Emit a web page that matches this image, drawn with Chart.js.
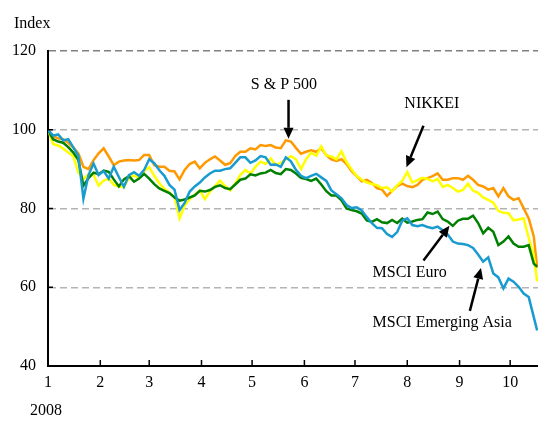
<!DOCTYPE html>
<html><head><meta charset="utf-8">
<script src="https://cdn.jsdelivr.net/npm/chart.js@4.4.0/dist/chart.umd.min.js"></script>
<style>html,body{margin:0;padding:0;background:#fff;}#wrap{width:538px;height:421px;position:relative;}</style>
</head><body><div id="wrap"><canvas id="c"></canvas></div>
<script>
// Days since 1 Jan 2008
const days = [0,3,6,9,12,15,18,21,24,27,30,33,36,39,42,45,48,51,54,57,60,63,66,69,72,75,78,81,84,87,90,93,96,99,102,105,108,111,114,117,120,123,126,129,132,135,138,141,144,147,150,153,156,159,162,165,168,171,174,177,180,183,186,189,192,195,198,201,204,207,210,213,216,219,222,225,228,231,234,237,240,243,246,249,252,255,258,261,264,267,270,273,276,279,282,285,288,290];
const sp500 = [100,98.4,97.8,97.6,96.7,95.5,94,90.6,90,92.3,94,95.3,93.2,91,91.9,92.2,92.3,92.2,92.3,93.6,93.6,91,90.6,90.6,89.6,89.4,87.4,89.8,91.3,91.9,90.2,91.6,92.5,93.2,92.2,91.1,91.5,93.3,94.4,94.4,95.3,95,96.1,95.9,96.1,95.5,95.3,97.3,97,95.4,93.9,94.4,94.8,94.4,95.3,93.5,92.5,92.1,92.5,91.3,89.5,88.2,86.9,87.3,86.5,85.2,84.8,83.2,84.5,85.7,86.3,85.7,85.4,86,87.3,87.7,88.2,88.9,87.3,87.3,87.7,87.7,87.3,88.3,87.3,86,85.6,84.8,85.2,83.1,85.2,83.1,82.2,82.6,80.1,77.5,72.9,65];
const nikkei = [100,96.4,96.0,95.2,94.2,93.3,89.1,87.5,88.7,88.5,85.8,87.1,87.6,86,85.6,85.4,87.8,88.4,87.7,89.5,90.5,88.3,86.4,85,84,82.9,77.5,80.7,82.4,83.5,84.6,82.4,84.3,85.7,87.1,85.7,84.6,86.4,88.5,89.8,88.9,90.6,91.9,91.3,92.7,91.1,91.6,92.5,93.3,92.5,90,92.5,94.2,93.4,95.8,93.5,93.2,92.5,94.5,91.8,89.9,88.3,87.3,86.6,86.2,85.9,85.2,85.4,84.3,85.9,87,89.3,86.6,87.2,87.8,87.5,86.9,87.5,85.5,86,85.2,84.3,84.7,86.3,84.5,84,82.8,82.2,81.5,79.4,78.9,78.8,77,77.2,77.5,72.5,68,61.5];
const msciEuro = [100,97.6,97.0,96.7,95.6,94.2,92.3,85.8,87.7,89.1,88.7,89.6,89.3,87.4,85.6,87.4,88.2,86.8,87.6,88.8,87.6,86.2,85.1,84.5,83.9,82.8,82,82.3,82.8,83.3,84.5,84.3,84.7,85.5,85.9,85.2,84.9,86.1,87.3,87.6,88.7,88.4,88.9,89.1,89.8,89,88.7,90,89.8,88.9,87.8,87.5,87,87.6,86.1,84.4,83.3,83.3,82.1,80,79.6,79.3,78.7,77,76.6,77.3,76.5,76.3,77.1,76.3,77.4,76.4,76.7,77.1,77.3,79,78.6,79.2,77.3,76.7,75.6,76.9,77.4,77.4,78.2,76.3,73.7,75.1,74.1,70.7,71.6,72.9,71.1,70.3,70.3,70.7,66,65.2];
const msciAsia = [100,98.5,98.8,97.3,97.6,95.5,93.4,82.5,88.5,91.4,88.5,89.5,87.6,90.6,88,85.5,88.5,89.2,88.3,89.8,92.5,91.5,89.7,88.3,86,84.8,79.6,81.4,84.3,85.6,86.6,87.9,88.9,89.6,89.6,90,90.2,91.6,93,93,91.6,92.2,93.3,93,91.1,91.2,90.6,93,92,89.8,88.3,87.7,88.3,88.8,87.9,87,84.6,83.6,82.6,80.9,80.1,80.3,79.5,77.8,76.3,75.1,75,73.5,72.8,74,76.9,77.5,75.8,75.5,75.8,75.3,75,75.4,74.5,73.4,71.6,71.1,71,70.7,70,68.3,66.5,67.6,63.5,62.5,59.7,62.2,61.4,60.1,58.4,57.5,52.4,49];
const monthStarts = [0,31,60,91,121,152,182,213,244,274];
const monthLabels = ['1','2','3','4','5','6','7','8','9','10'];
const yTickValues = [40,60,80,100,120];
const seriesNames = ['MSCI Emerging Asia','MSCI Euro','NIKKEI','S & P 500'];
const seriesColors = ['#1A9BD0','#008000','#FFFF00','#FF9900'];
// annotations in data coordinates (day, value)
const notes = [
  {text:'S & P 500', x:139.9, y:111.4, align:'center', from:[142.6,107.6], to:[142.6,97.7]},
  {text:'NIKKEI', x:227.6, y:106.5, align:'center', from:[222.6,101.0], to:[212.5,90.5]},
  {text:'MSCI Euro', x:192.4, y:63.6, align:'left', from:[222.6,66.8], to:[238.0,75.6]},
  {text:'MSCI Emerging Asia', x:192.4, y:50.9, align:'left', from:[250.1,54.0], to:[256.7,64.9]}
];

const FONT = '"Liberation Serif", "Times New Roman", serif';
const mk = arr => days.map((d,i)=>({x:d,y:arr[i]}));
const allSeries = [msciAsia, msciEuro, nikkei, sp500];

const decor = {
  id:'decor',
  afterDraw(chart){
    const {ctx, scales:{x,y}, chartArea:a} = chart;
    ctx.save();
    ctx.strokeStyle='#000'; ctx.lineWidth=1.5;
    monthStarts.forEach(v=>{ if(v===0) return; const px=x.getPixelForValue(v); ctx.beginPath(); ctx.moveTo(px,a.bottom); ctx.lineTo(px,a.bottom-6); ctx.stroke(); });
    yTickValues.forEach(v=>{ if(v===40||v===120) return; const py=y.getPixelForValue(v); ctx.beginPath(); ctx.moveTo(a.left,py); ctx.lineTo(a.left+5,py); ctx.stroke(); });
    ctx.fillStyle='#000';
    ctx.font='16px '+FONT;
    ctx.textAlign='left'; ctx.textBaseline='alphabetic';
    ctx.fillText('Index',14,28);
    ctx.textBaseline='middle';
    ctx.fillText('2008',30,411);
    notes.forEach(n=>{
      ctx.textAlign=n.align;
      ctx.fillText(n.text, x.getPixelForValue(n.x), y.getPixelForValue(n.y));
      const x1=x.getPixelForValue(n.from[0]), y1=y.getPixelForValue(n.from[1]);
      const x2=x.getPixelForValue(n.to[0]), y2=y.getPixelForValue(n.to[1]);
      const ang=Math.atan2(y2-y1,x2-x1), hl=11, hw=5;
      const bx=x2-hl*Math.cos(ang), by=y2-hl*Math.sin(ang);
      ctx.strokeStyle='#000'; ctx.lineWidth=2.5;
      ctx.beginPath(); ctx.moveTo(x1,y1); ctx.lineTo(bx,by); ctx.stroke();
      ctx.beginPath(); ctx.moveTo(x2,y2);
      ctx.lineTo(bx+hw*Math.sin(ang), by-hw*Math.cos(ang));
      ctx.lineTo(bx-hw*Math.sin(ang), by+hw*Math.cos(ang));
      ctx.closePath(); ctx.fill();
    });
    ctx.restore();
  }
};

new Chart(document.getElementById('c'), {
  type:'line',
  data:{ datasets: allSeries.map((s,i)=>({label:seriesNames[i], data:mk(s), borderColor:seriesColors[i], backgroundColor:seriesColors[i], borderWidth:2.5, pointRadius:0, tension:0, fill:false})) },
  options:{
    responsive:true, maintainAspectRatio:false, animation:false,
    layout:{padding:{top:51,left:0,right:0,bottom:0}},
    plugins:{legend:{display:false}, tooltip:{enabled:false}},
    scales:{
      x:{type:'linear', min:0, max:290.5,
        afterFit(s){ s.height=55; },
        afterBuildTicks(s){ s.ticks = monthStarts.map(v=>({value:v})); },
        ticks:{autoSkip:false, maxRotation:0, padding:7, color:'#000', font:{family:FONT,size:16},
          callback:(v,i)=>monthLabels[i]},
        grid:{display:false, drawTicks:false},
        border:{display:true,color:'#000',width:2}
      },
      y:{min:40, max:120,
        afterFit(s){ s.width=48; },
        afterBuildTicks(s){ s.ticks = yTickValues.map(v=>({value:v})); },
        ticks:{padding:12, color:'#000', font:{family:FONT,size:16}},
        grid:{drawTicks:false, lineWidth:1.5, color:c=> c.tick && c.tick.value===40 ? 'rgba(0,0,0,0)' : (c.tick && c.tick.value===120 ? '#808080' : '#b4b4b4')},
        border:{display:true,color:'#000',width:2,dash:[7,4]}
      }
    }
  },
  plugins:[decor]
});
</script></body></html>
